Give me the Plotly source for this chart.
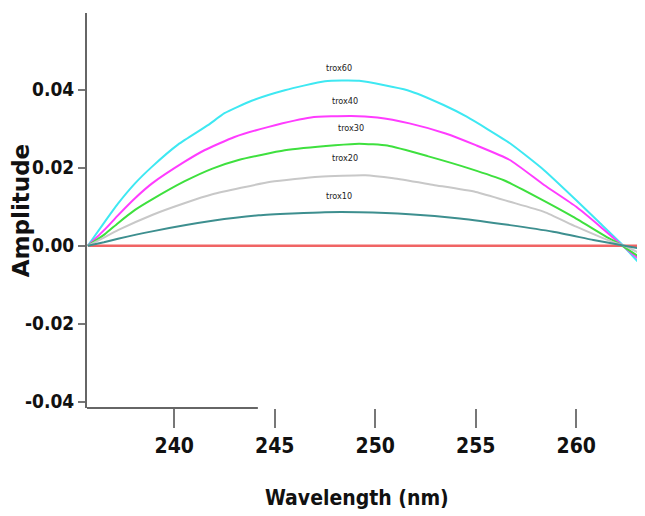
import plotly.graph_objects as go

# Data (wavelength nm, amplitude)
wl_60 = [235.7, 236.55, 237.2, 238.05, 238.9, 240.2, 241.7, 242.5, 243.85, 245.5, 247.5, 249.2, 251.6, 253.4, 254.55, 256.7, 258.4, 260.0, 261.2, 262.3, 263.4]
amp_60 = [0.0, 0.0062, 0.0108, 0.0160, 0.0203, 0.0260, 0.0310, 0.0340, 0.0372, 0.0399, 0.0422, 0.0423, 0.0399, 0.0361, 0.0331, 0.0263, 0.0194, 0.0117, 0.0057, 0.0002, -0.0060]

wl_40 = [235.7, 236.55, 237.2, 238.05, 238.9, 240.5, 241.5, 243.0, 244.7, 246.8, 248.8, 250.1, 251.7, 253.5, 255.0, 256.7, 258.4, 260.0, 261.2, 262.3, 263.4]
amp_40 = [0.0, 0.0042, 0.0078, 0.0122, 0.0160, 0.0215, 0.0245, 0.0279, 0.0305, 0.0329, 0.0333, 0.0329, 0.0314, 0.0288, 0.0258, 0.0220, 0.0156, 0.0100, 0.0049, 0.0, -0.0046]

wl_30 = [235.7, 236.55, 237.2, 238.05, 238.9, 240.5, 241.9, 243.2, 245.5, 248.0, 249.2, 250.6, 252.6, 254.7, 256.4, 258.0, 259.85, 261.5, 262.3, 263.4]
amp_30 = [0.0, 0.0030, 0.0058, 0.0092, 0.0119, 0.0165, 0.0198, 0.0220, 0.0245, 0.0258, 0.0262, 0.0257, 0.0230, 0.0198, 0.0168, 0.0126, 0.0074, 0.0023, 0.0, -0.0038]

wl_20 = [235.7, 236.5, 237.2, 238.9, 240.5, 241.9, 244.8, 247.2, 249.5, 250.9, 252.9, 255.0, 256.7, 258.4, 260.0, 261.8, 262.4, 263.4]
amp_20 = [0.0, 0.0021, 0.0040, 0.0079, 0.0109, 0.0132, 0.0164, 0.0177, 0.0181, 0.0173, 0.0156, 0.0138, 0.0113, 0.0087, 0.0049, 0.0010, 0.0, -0.0026]

wl_10 = [235.7, 236.5, 237.2, 238.9, 241.9, 244.2, 247.5, 249.2, 251.7, 254.2, 256.7, 258.85, 260.85, 262.4, 263.4]
amp_10 = [0.0, 0.0009, 0.0018, 0.0037, 0.0064, 0.0078, 0.0086, 0.0086, 0.0081, 0.0070, 0.0053, 0.0036, 0.0015, 0.0, -0.0009]

wl_blank = [235.7, 263.4]
amp_blank = [0.0, 0.0]

series = [
    ("trox60", wl_60, amp_60, "#3ee8f2"),
    ("trox40", wl_40, amp_40, "#ff3cff"),
    ("trox30", wl_30, amp_30, "#3ee03e"),
    ("trox20", wl_20, amp_20, "#c8c8c8"),
    ("trox10", wl_10, amp_10, "#3d8f8f"),
]

label_names = ["trox60", "trox40", "trox30", "trox20", "trox10"]
label_x = [248.2, 248.5, 248.8, 248.5, 248.2]
label_y = [0.0456, 0.0371, 0.0302, 0.0225, 0.0127]

x_ticks = [240, 245, 250, 255, 260]
y_ticks = [-0.04, -0.02, 0.0, 0.02, 0.04]

narrow = "DejaVu Sans Condensed, Liberation Sans Narrow, Liberation Sans, Arial"

fig = go.Figure()
fig.add_trace(go.Scatter(x=wl_blank, y=amp_blank, mode="lines",
                         line=dict(color="#f06464", width=2.5), showlegend=False))
for name, xs, ys, col in series:
    fig.add_trace(go.Scatter(x=xs, y=ys, mode="lines", name=name,
                             line=dict(color=col, width=2, shape="spline", smoothing=0.5),
                             showlegend=False))

for n, lx, ly in zip(label_names, label_x, label_y):
    fig.add_annotation(x=lx, y=ly, text=n, showarrow=False,
                       font=dict(family=narrow, size=9, color="#222"))

# x-axis title placed as in the reference (slightly left of centre)
fig.add_annotation(xref="paper", yref="paper", x=0.483, y=-0.227, yanchor="middle",
                   text="Wavelength (nm)", showarrow=False,
                   font=dict(family=narrow, size=21, color="#111", weight="bold"))

fig.update_layout(
    width=645, height=516,
    margin=dict(l=79, r=8, t=5, b=116, autoexpand=False),
    paper_bgcolor="white", plot_bgcolor="white",
    xaxis=dict(range=[235.66, 263.42], tickvals=x_ticks, ticktext=[str(v) for v in x_ticks],
               automargin=False,
               showgrid=False, zeroline=False, showline=False,
               ticks="outside", ticklen=19, tickwidth=1.5, tickcolor="#777",
               tickfont=dict(family=narrow, size=21, color="#111", weight="bold")),
    yaxis=dict(range=[-0.0416, 0.0597], tickvals=y_ticks,
               ticktext=["-0.04", "-0.02", "0.00", "0.02", "0.04"],
               automargin=False,
               showgrid=False, zeroline=False, showline=True, linecolor="#666", linewidth=2,
               ticks="outside", ticklen=7, tickwidth=1.5, tickcolor="#777",
               tickfont=dict(family=narrow, size=19, color="#111", weight="bold"),
               title=dict(text="Amplitude", standoff=6,
                          font=dict(family="DejaVu Sans", size=23, color="#111", weight="bold"))),
)
# partial bottom axis line
fig.add_shape(type="line", xref="x", yref="paper", x0=235.66, x1=244.16, y0=0, y1=0,
              line=dict(color="#666", width=2))

fig.write_html("out.html")
